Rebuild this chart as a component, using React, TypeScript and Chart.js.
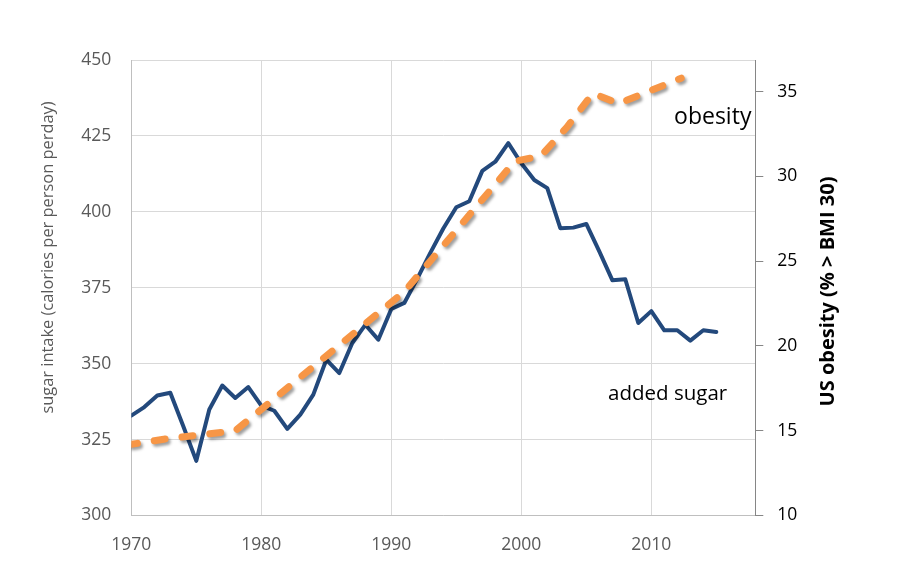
import React, { useEffect, useRef } from 'react';
import { Chart, registerables } from 'chart.js';

Chart.register(...registerables);

// ---------- data ----------
const sugarYears = [
  1970, 1971, 1972, 1973, 1974, 1975, 1976, 1977, 1978, 1979,
  1980, 1981, 1982, 1983, 1984, 1985, 1986, 1987, 1988, 1989,
  1990, 1991, 1992, 1993, 1994, 1995, 1996, 1997, 1998, 1999,
  2000, 2001, 2002, 2003, 2004, 2005, 2006, 2007, 2008, 2009,
  2010, 2011, 2012, 2013, 2014, 2015,
];
const sugarValues = [
  332.9, 335.7, 339.5, 340.4, 329.4, 318.0, 334.9, 342.8, 338.7, 342.3,
  336.2, 334.5, 328.5, 333.2, 339.8, 351.3, 346.9, 356.8, 362.8, 357.9,
  368.0, 370.0, 378.0, 386.5, 394.5, 401.5, 403.5, 413.5, 416.5, 422.6,
  416.0, 410.5, 407.8, 394.6, 394.8, 396.0, 387.0, 377.5, 377.8, 363.4,
  367.3, 361.0, 361.0, 357.6, 361.0, 360.4,
];
const obesityYears = [1970, 1972.5, 1978, 1991, 1999.5, 2001.5, 2003.5, 2005.5, 2007.5, 2012.3];
const obesityValues = [14.2, 14.5, 15.0, 23.2, 30.9, 31.2, 32.9, 34.9, 34.3, 35.8];

const xTicks = [1970, 1980, 1990, 2000, 2010];
const sugarTicks = [300, 325, 350, 375, 400, 425, 450];
const obesityTicks = [10, 15, 20, 25, 30, 35];

const leftTitle = 'sugar intake (calories per person perday)';
const rightTitle = 'US obesity (% > BMI 30)';
const sugarLabel = 'added sugar';
const obesityLabel = 'obesity';

// ---------- styles ----------
const FONT = '"Open Sans", "Noto Sans", sans-serif';
const BLUE = '#23497c';
const ORANGE = '#f79646';
const GRID = '#d9d9d9';
const AXIS_GRAY = '#868686';
const TEXT_GRAY = '#595959';

const shadowPlugin = {
  id: 'lineShadow',
  beforeDatasetDraw(chart: any, args: any) {
    const ds = chart.data.datasets[args.index];
    if (!ds.shadow) return;
    const ctx = chart.ctx;
    ctx.save();
    ctx.shadowColor = 'rgba(0,0,0,0.38)';
    ctx.shadowBlur = 3;
    ctx.shadowOffsetX = 2;
    ctx.shadowOffsetY = 2.5;
  },
  afterDatasetDraw(chart: any, args: any) {
    const ds = chart.data.datasets[args.index];
    if (!ds.shadow) return;
    chart.ctx.restore();
  },
};

const textPlugin = {
  id: 'chartTexts',
  afterDraw(chart: any) {
    const ctx = chart.ctx;
    const { x, y, y1 } = chart.scales;
    ctx.save();

    // left axis title
    ctx.save();
    ctx.translate(48, 257.5);
    ctx.rotate(-Math.PI / 2);
    ctx.font = `16.4px ${FONT}`;
    ctx.fillStyle = TEXT_GRAY;
    ctx.textAlign = 'center';
    ctx.textBaseline = 'middle';
    ctx.fillText(leftTitle, 0, 0);
    ctx.restore();

    // right axis title
    ctx.save();
    ctx.translate(828, 291.5);
    ctx.rotate(-Math.PI / 2);
    ctx.font = `bold 20px ${FONT}`;
    ctx.fillStyle = '#000';
    ctx.textAlign = 'center';
    ctx.textBaseline = 'middle';
    ctx.fillText(rightTitle, 0, 0);
    ctx.restore();

    // series labels
    ctx.fillStyle = '#000';
    ctx.textAlign = 'right';
    ctx.textBaseline = 'alphabetic';
    ctx.font = `23px ${FONT}`;
    ctx.fillText(obesityLabel, x.getPixelForValue(2017.7), y1.getPixelForValue(33.1));
    ctx.font = `20.5px ${FONT}`;
    ctx.fillText(sugarLabel, x.getPixelForValue(2015.84), y.getPixelForValue(338.1));

    ctx.restore();
  },
};

export default function App() {
  const canvasRef = useRef<HTMLCanvasElement | null>(null);

  useEffect(() => {
    document.body.style.margin = '0';
    const canvas = canvasRef.current;
    if (!canvas) return;

    const chart = new Chart(canvas, {
      type: 'line',
      data: {
        datasets: [
          {
            label: obesityLabel,
            data: obesityYears.map((yr, i) => ({ x: yr, y: obesityValues[i] })),
            yAxisID: 'y1',
            borderColor: ORANGE,
            borderWidth: 7,
            borderDash: [11, 17],
            borderDashOffset: 4.8,
            borderCapStyle: 'round',
            borderJoinStyle: 'round',
            pointRadius: 0,
            tension: 0,
            order: 0,
            shadow: true,
          } as any,
          {
            label: sugarLabel,
            data: sugarYears.map((yr, i) => ({ x: yr, y: sugarValues[i] })),
            yAxisID: 'y',
            borderColor: BLUE,
            borderWidth: 4,
            borderJoinStyle: 'round',
            borderCapStyle: 'round',
            pointRadius: 0,
            tension: 0,
            order: 1,
          } as any,
        ],
      },
      options: {
        animation: false,
        responsive: false,
        devicePixelRatio: 1,
        layout: { padding: { top: 60, left: 0, right: 0, bottom: 0 } },
        plugins: {
          legend: { display: false },
          tooltip: { enabled: false },
          title: { display: false },
        },
        scales: {
          x: {
            type: 'linear',
            min: 1970,
            max: 2018,
            afterBuildTicks: (scale: any) => {
              scale.ticks = xTicks.map((v) => ({ value: v }));
            },
            afterFit: (scale: any) => {
              scale.height = 56.5;
            },
            grid: { color: GRID, lineWidth: 1, drawTicks: false },
            border: { color: '#bfbfbf', width: 1 },
            ticks: {
              color: TEXT_GRAY,
              font: { family: FONT, size: 17.5 },
              padding: 19,
              maxRotation: 0,
              callback: (v: any) => String(v),
            },
          },
          y: {
            type: 'linear',
            position: 'left',
            min: 300,
            max: 450,
            afterBuildTicks: (scale: any) => {
              scale.ticks = sugarTicks.map((v) => ({ value: v }));
            },
            afterFit: (scale: any) => {
              scale.width = 131.3;
            },
            grid: { color: GRID, lineWidth: 1, drawTicks: false },
            border: { color: '#bfbfbf', width: 1 },
            ticks: {
              color: TEXT_GRAY,
              font: { family: FONT, size: 17.5 },
              padding: 20,
            },
          },
          y1: {
            type: 'linear',
            position: 'right',
            min: 10,
            max: 36.87,
            afterBuildTicks: (scale: any) => {
              scale.ticks = obesityTicks.map((v) => ({ value: v }));
            },
            afterFit: (scale: any) => {
              scale.width = 150.7;
            },
            grid: {
              drawOnChartArea: false,
              drawTicks: true,
              tickLength: 8,
              color: AXIS_GRAY,
              lineWidth: 1,
            },
            border: { color: AXIS_GRAY, width: 1 },
            ticks: {
              color: '#000',
              font: { family: FONT, size: 17.5 },
              padding: 14,
            },
          },
        },
      } as any,
      plugins: [shadowPlugin, textPlugin],
    });

    return () => {
      chart.destroy();
    };
  }, []);

  return (
    <div style={{ position: 'absolute', left: 0, top: 0, width: 906, height: 572, background: '#fff' }}>
      <canvas ref={canvasRef} width={906} height={572} style={{ width: 906, height: 572, display: 'block' }} />
    </div>
  );
}
